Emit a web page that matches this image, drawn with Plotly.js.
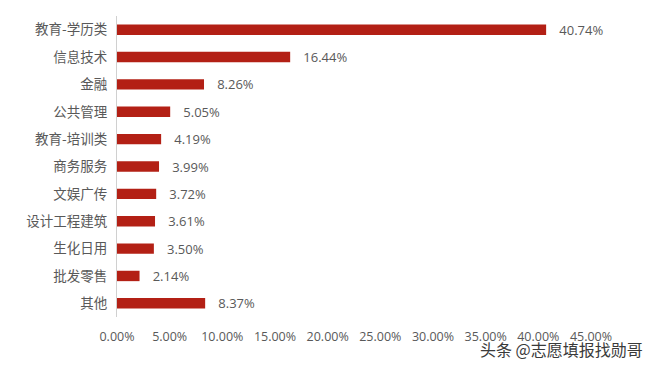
<!DOCTYPE html>
<html><head><meta charset="utf-8">
<script src="https://cdn.plot.ly/plotly-3.0.1.min.js"></script>
<style>html,body{margin:0;padding:0;background:#fff;}</style>
</head><body>
<div id="chart" style="width:656px;height:368px;"></div>
<script>
const categories = ["教育-学历类","信息技术","金融","公共管理","教育-培训类","商务服务","文娱广传","设计工程建筑","生化日用","批发零售","其他"];
const values = [40.74,16.44,8.26,5.05,4.19,3.99,3.72,3.61,3.50,2.14,8.37];
const tickVals = [0,5,10,15,20,25,30,35,40,45];
const tickText = tickVals.map(v => v.toFixed(2) + "%");
const watermark = "头条 @志愿填报找勋哥";

const trace = {
  type: "bar",
  orientation: "h",
  y: categories,
  x: values,
  marker: {color: "#B32015"},
  width: 0.38,
  texttemplate: "\u00a0\u00a0\u00a0%{x:.2f}%",
  textposition: "outside",
  constraintext: "none",
  cliponaxis: false,
  textfont: {family: "Open Sans, Noto Sans CJK SC, sans-serif", size: 13, color: "#595959"},
  hoverinfo: "none"
};

const layout = {
  width: 656, height: 368,
  margin: {l: 117, r: 65, t: 16, b: 51},
  paper_bgcolor: "#fff", plot_bgcolor: "#fff",
  showlegend: false,
  font: {family: "Noto Sans CJK SC, sans-serif", color: "#595959"},
  xaxis: {
    range: [0, 45], tickvals: tickVals, ticktext: tickText,
    showgrid: false, zeroline: false, showline: false, ticks: "",
    tickfont: {family: "Open Sans, sans-serif", size: 12.5, color: "#595959"},
    ticklabelstandoff: 10
  },
  yaxis: {
    autorange: "reversed", categoryorder: "array", categoryarray: categories,
    showgrid: false, zeroline: false, showline: true, linecolor: "#d0d0d0", linewidth: 1,
    ticks: "", ticklabelstandoff: 6,
    tickfont: {family: "Noto Sans CJK SC, sans-serif", size: 13.5, color: "#595959"}
  },
  annotations: [{
    xref: "paper", yref: "paper", x: 1.114, y: -0.106, xanchor: "right", yanchor: "middle",
    text: watermark, showarrow: false,
    font: {family: "Noto Sans CJK SC, sans-serif", size: 16, color: "#3a3a3a", shadow: "0px 0px 2px #fff"}
  }]
};

Plotly.newPlot("chart", [trace], layout, {staticPlot: true, displayModeBar: false});
</script>
</body></html>
